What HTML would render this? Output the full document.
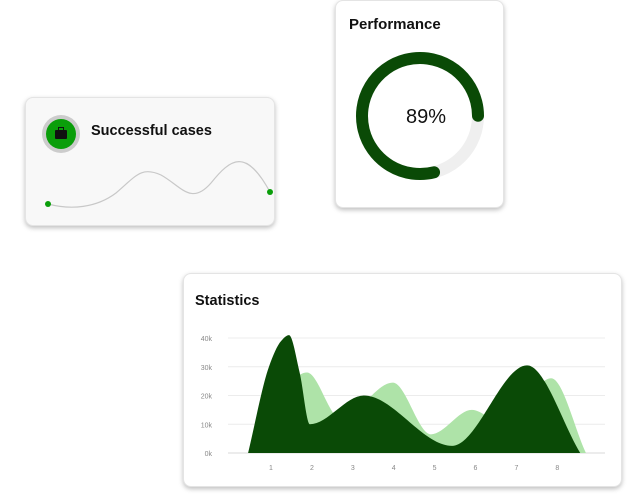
<!DOCTYPE html>
<html><head><meta charset="utf-8"><style>
body{margin:0;width:627px;height:494px;background:#fff;position:relative;overflow:hidden;font-family:"Liberation Sans",sans-serif}
.card{position:absolute;border-radius:8px;box-shadow:0 2px 5px rgba(0,0,0,.25);border:1px solid #e4e4e4;box-sizing:border-box}
.t{position:absolute;font-weight:bold;color:#111}
</style></head><body>
<div class="card" style="left:25px;top:97px;width:250px;height:129px;background:#f8f8f8">
  <div style="position:absolute;left:16px;top:17px;width:38px;height:38px;border-radius:50%;background:#ccc">
    <div style="position:absolute;left:4px;top:4px;width:30px;height:30px;border-radius:50%;background:#0a9e0a"></div>
    <div style="position:absolute;left:13px;top:15px;width:12px;height:9px;background:#111;border-radius:1px"></div>
    <div style="position:absolute;left:16px;top:12px;width:4px;height:2px;border:1px solid #111;border-bottom:none"></div>
  </div>
  <div class="t" style="left:65px;top:25px;font-size:14.5px">Successful cases</div>
  <svg style="position:absolute;left:0;top:0" width="250" height="129">
    <path d="M22,106 C45,112 70,110 90,95 C110,78 115,68 135,77 C155,88 165,108 185,85 C205,60 220,50 244,94" fill="none" stroke="#c8c8c8" stroke-width="1.2"/>
    <circle cx="22" cy="106" r="3" fill="#0a9e0a"/><circle cx="244" cy="94" r="3" fill="#0a9e0a"/>
  </svg>
</div>
<div class="card" style="left:335px;top:0;width:169px;height:208px;background:#fff">
  <div class="t" style="left:13px;top:15px;font-size:15px">Performance</div>
  <svg style="position:absolute;left:-335px;top:0" width="627" height="208">
    <circle cx="419" cy="115" r="58" fill="none" stroke="#efefef" stroke-width="12"/>
    <circle cx="419" cy="115" r="58" fill="none" stroke="#0a4a06" stroke-width="12" stroke-linecap="round" stroke-dasharray="287 400" transform="rotate(76 419 115)"/>
    <text x="425" y="122" text-anchor="middle" font-size="20" fill="#111" font-family="Liberation Sans">89%</text>
  </svg>
</div>
<div class="card" style="left:183px;top:273px;width:439px;height:214px;background:#fff">
  <div class="t" style="left:11px;top:19px;font-size:14.5px">Statistics</div>
</div>
<svg id="chart" width="627" height="494" style="position:absolute;left:0;top:0"></svg>
<script>
const yTicks=[0,10,20,30,40];
const xLabels=["1","2","3","4","5","6","7","8"];
const darkX=[0.44,0.95,1.25,1.44,1.7,1.95,3.27,5.43,7.26,8.56];
const darkY=[0,30,39,41,28,10,20,2.5,30.5,0];
const lightX=[0.44,1.88,2.7,3.98,4.91,5.91,6.7,7.85,8.7];
const lightY=[0,28,12,24.5,6.5,15,10,26,0];
const svg=document.getElementById('chart');const NS='http://www.w3.org/2000/svg';
const xs=c=>271+(c-1)*40.9;const ys=v=>453-v*2.875;
function el(t,a){const e=document.createElementNS(NS,t);for(const k in a)e.setAttribute(k,a[k]);svg.appendChild(e);return e;}
yTicks.forEach(v=>{const g=el('line',{x1:228,x2:605,y1:ys(v),y2:ys(v),stroke:v===0?'#d8d8d8':'#ececec','stroke-width':1});

const t=el('text',{x:212,y:ys(v)+3,'text-anchor':'end','font-size':7,fill:'#888','font-family':'Liberation Sans'});t.textContent=v+'k';
});
xLabels.forEach((l,i)=>{const t=el('text',{x:xs(i+1),y:470,'text-anchor':'middle','font-size':7,fill:'#888','font-family':'Liberation Sans'});t.textContent=l;
});
function area(X,Y){const px=X.map(xs),py=Y.map(ys),n=px.length;
const s=[];for(let i=0;i<n-1;i++)s.push((py[i+1]-py[i])/(px[i+1]-px[i]));
const m=[];for(let i=0;i<n;i++){if(i===0)m.push(s[0]);else if(i===n-1)m.push(s[n-2]);else{const a=s[i-1],b=s[i];m.push(a*b<=0?0:2/(1/a+1/b));}}
let d='M'+px[0]+','+py[0];
for(let i=0;i<n-1;i++){const h=(px[i+1]-px[i])/3;
d+=` C${px[i]+h},${py[i]+m[i]*h} ${px[i+1]-h},${py[i+1]-m[i+1]*h} ${px[i+1]},${py[i+1]}`;}
return d+'Z';}
const l=el('path',{d:area(lightX,lightY),fill:'#aee3a8'});

const d=el('path',{d:area(darkX,darkY),fill:'#0a4a06'});

</script>
</body></html>
